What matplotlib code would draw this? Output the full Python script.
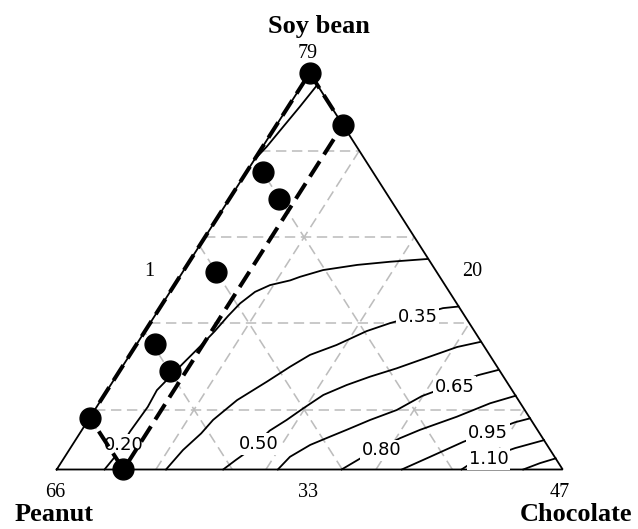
import matplotlib.pyplot as plt

# mixture fractions: (soy bean, chocolate), peanut = 1 - soy - chocolate
design_soy = [1.000, 0.869, 0.751, 0.682, 0.498, 0.317, 0.248, 0.131, 0.000]
design_choc = [0.000, 0.131, 0.033, 0.098, 0.065, 0.035, 0.100, 0.000, 0.132]

# constrained region (dashed outline)
region_soy = [1.000, 0.869, 0.000, 0.131, 1.000]
region_choc = [0.000, 0.131, 0.132, 0.000, 0.000]

# gray reference grid
grid_soy = [0.151, 0.3685, 0.586, 0.8035]
grid_choc = [0.196, 0.4135, 0.631, 0.8485]
grid_peanut = [0.218, 0.4355, 0.653, 0.8705]

# contour lines
top_soy = [0.970, 0.915, 0.865, 0.814, 0.781]
top_choc = [0.030, 0.023, 0.0155, 0.008, 0.000]

c020_soy = [0.000, 0.032, 0.095, 0.158, 0.200, 0.234, 0.268, 0.310, 0.349, 0.387,
            0.419, 0.448, 0.465, 0.477, 0.486, 0.503, 0.516, 0.524, 0.531]
c020_choc = [0.0945, 0.099, 0.097, 0.101, 0.098, 0.107, 0.116, 0.128, 0.138, 0.145,
             0.153, 0.168, 0.189, 0.223, 0.238, 0.275, 0.336, 0.397, 0.468]

c035_soy = [0.000, 0.049, 0.091, 0.125, 0.175, 0.222, 0.259, 0.289, 0.314, 0.349, 0.369, 0.407, 0.411]
c035_choc = [0.216, 0.225, 0.240, 0.2465, 0.269, 0.305, 0.3315, 0.356, 0.396, 0.438, 0.474, 0.560, 0.5885]

c050_soy = [0.000, 0.024, 0.044, 0.098, 0.125, 0.154, 0.188, 0.213, 0.234, 0.255, 0.276, 0.309, 0.322]
c050_choc = [0.329, 0.342, 0.354, 0.372, 0.392, 0.410, 0.433, 0.4665, 0.502, 0.544, 0.580, 0.637, 0.677]

c065_soy = [0.000, 0.032, 0.062, 0.083, 0.100, 0.125, 0.150, 0.185, 0.238, 0.251]
c065_choc = [0.437, 0.445, 0.470, 0.499, 0.523, 0.557, 0.597, 0.629, 0.714, 0.747]

c080_soy = [0.000, 0.029, 0.079, 0.100, 0.133, 0.167, 0.186]
c080_choc = [0.563, 0.587, 0.639, 0.668, 0.724, 0.773, 0.814]

c095_soy = [0.000, 0.032, 0.070, 0.119, 0.129]
c095_choc = [0.682, 0.722, 0.769, 0.846, 0.871]

c110_soy = [0.000, 0.014, 0.054, 0.074]
c110_choc = [0.800, 0.810, 0.879, 0.926]

c125_soy = [0.000, 0.016, 0.028]
c125_choc = [0.922, 0.947, 0.972]

label_text = ['0.20', '0.35', '0.50', '0.65', '0.80', '0.95', '1.10']
label_soy = [0.062, 0.385, 0.064, 0.209, 0.048, 0.091, 0.0265]
label_choc = [0.102, 0.521, 0.368, 0.6825, 0.618, 0.807, 0.841]

vertex_names = ['Peanut', 'Chocolate', 'Soy bean']
vertex_values = ['66', '47', '79']
side_values = ['33', '1', '20']   # bottom, left, right


def tern(soy, choc):
    xs = [c + s / 2 for s, c in zip(soy, choc)]
    return xs, list(soy)


fig = plt.figure(figsize=(6.38, 5.29), dpi=100)
ax = fig.add_axes([0.08887, 0.11248, 0.79310, 0.74953])
ax.set_xlim(0, 1)
ax.set_ylim(0, 1)
ax.axis('off')

gray = '#bdbdbd'
gkw = dict(color=gray, lw=1.15, dashes=(6.5, 3.5), zorder=1, clip_on=False)
for s in grid_soy:
    ax.plot(*tern([s, s], [0, 1 - s]), **gkw)
for c in grid_choc:
    ax.plot(*tern([0, 1 - c], [c, c]), **gkw)
for p in grid_peanut:
    ax.plot(*tern([0, 1 - p], [1 - p, 0]), **gkw)

# triangle frame
ax.plot(*tern([0, 0, 1, 0], [0, 1, 0, 0]), color='black', lw=1.3, zorder=2,
        solid_joinstyle='miter', clip_on=False)

for s, c in [(top_soy, top_choc), (c020_soy, c020_choc), (c035_soy, c035_choc),
             (c050_soy, c050_choc), (c065_soy, c065_choc), (c080_soy, c080_choc),
             (c095_soy, c095_choc), (c110_soy, c110_choc), (c125_soy, c125_choc)]:
    ax.plot(*tern(s, c), color='black', lw=1.3, zorder=2, clip_on=False)

lx, ly = tern(label_soy, label_choc)
for t, x, y in zip(label_text, lx, ly):
    ax.text(x, y, t, fontsize=13, family='DejaVu Sans', ha='center', va='center',
            zorder=3, bbox=dict(facecolor='white', edgecolor='none', pad=1.2))

ax.plot(*tern(region_soy, region_choc), color='black', lw=2.9, dashes=(4.5, 2),
        zorder=4, clip_on=False)
ax.plot(*tern(design_soy, design_choc), 'o', color='black', ms=15, zorder=5,
        clip_on=False)

serif = 'Liberation Serif'
ax.text(0.518, 1.100, vertex_names[2], fontsize=19, fontweight='bold', family=serif,
        ha='center', va='baseline')
ax.text(0.4957, 1.049, vertex_values[2], fontsize=14.5, family=serif, ha='center', va='center')
ax.text(-0.084, -0.129, vertex_names[0], fontsize=19, fontweight='bold', family=serif,
        ha='left', va='baseline')
ax.text(1.138, -0.129, vertex_names[1], fontsize=19, fontweight='bold', family=serif,
        ha='right', va='baseline')
ax.text(-0.0034, -0.059, vertex_values[0], fontsize=14.5, family=serif, ha='center', va='center')
ax.text(0.9947, -0.059, vertex_values[1], fontsize=14.5, family=serif, ha='center', va='center')
ax.text(0.4957, -0.059, side_values[0], fontsize=14.5, family=serif, ha='center', va='center')
ax.text(0.1824, 0.499, side_values[1], fontsize=14.5, family=serif, ha='center', va='center')
ax.text(0.8208, 0.499, side_values[2], fontsize=14.5, family=serif, ha='center', va='center')

fig.savefig('out.png', dpi=100)
